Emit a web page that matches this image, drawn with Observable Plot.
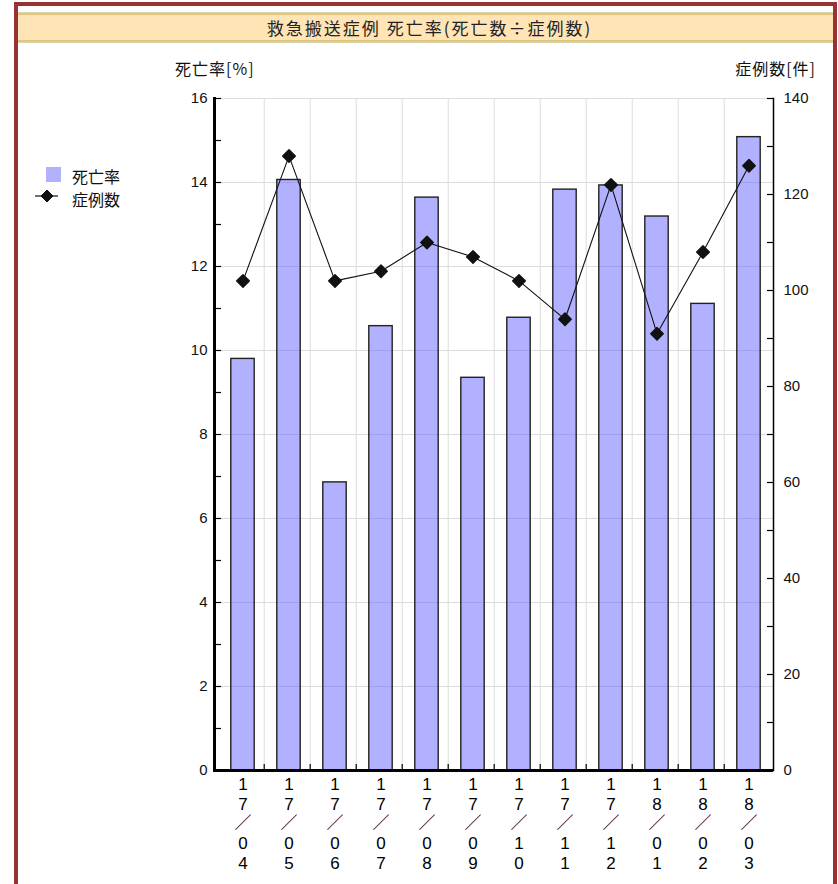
<!DOCTYPE html>
<html><head><meta charset="utf-8">
<script src="https://cdn.jsdelivr.net/npm/d3@7"></script>
<script src="https://cdn.jsdelivr.net/npm/@observablehq/plot@0.6"></script>
<style>
html,body{margin:0;padding:0;background:#fff;overflow:hidden;width:838px;height:884px}
#frame{position:absolute;left:14px;top:2px;width:823px;height:900px;border:4px solid #993333;border-bottom:none;box-sizing:border-box;z-index:5;pointer-events:none}
#titlebar{position:absolute;left:18px;top:12px;width:815px;height:31px;
 background:linear-gradient(to bottom,#d6d6b2 0 1px,#e5c57a 1px 3px,#ffe4b5 3px calc(100% - 3px),#e5c57a calc(100% - 3px) calc(100% - 1px),#d6d6b2 calc(100% - 1px));
 font:17px "Noto Sans CJK JP",sans-serif;letter-spacing:2px;color:#222;text-align:center;line-height:31px;padding-left:8px;box-sizing:border-box}
.lbl{position:absolute;font:16px "Noto Sans CJK JP",sans-serif;color:#111;white-space:nowrap;line-height:22px}
.ttl{letter-spacing:1px}
#chart{position:absolute;left:0;top:44px}
</style></head>
<body>
<div id="chart"></div>
<div id="frame"></div>
<div id="titlebar">救急搬送症例 死亡率(死亡数÷症例数)</div>
<div class="lbl ttl" style="left:175px;top:57px">死亡率[%]</div>
<div class="lbl ttl" style="right:22px;top:57px">症例数[件]</div>
<div style="position:absolute;left:46px;top:167px;width:15px;height:15px;background:#b1b1ff"></div>
<div class="lbl" style="left:72px;top:165px">死亡率</div>
<svg style="position:absolute;left:33px;top:188px" width="28" height="16"><line x1="2" y1="8" x2="25" y2="8" stroke="#111" stroke-width="1.2"/><path d="M14,2 L20,8 L14,14 L8,8 Z" fill="#111" stroke="#111" stroke-linejoin="round"/></svg>
<div class="lbl" style="left:72px;top:188px">症例数</div>
<script>
const months = ["17/04","17/05","17/06","17/07","17/08","17/09","17/10","17/11","17/12","18/01","18/02","18/03"];
const deathRate = [9.80,14.06,6.86,10.58,13.64,9.35,10.78,13.83,13.93,13.19,11.11,15.08];
const cases = [102,128,102,104,110,107,102,94,122,91,108,126];
const leftTicks = [0,2,4,6,8,10,12,14,16];
const leftMinor = [1,3,5,7,9,11,13,15];
const rightTicks = [0,20,40,60,80,100,120,140];
const rightMinor = [10,30,50,70,90,110,130];
const leftMax = 16, rightMax = 140;

const k = leftMax / rightMax;
const data = months.map((m, i) => ({month: m, rate: deathRate[i], count: cases[i]}));

const W = 838, H = 840, mL = 214, mR = 65, mT = 54, mB = 114;
const fw = W - mL - mR, fh = H - mT - mB;
const step = fw / months.length;
const grid = "#dcdcdc";

const chart = Plot.plot({
  width: W, height: H,
  marginLeft: mL, marginRight: mR, marginTop: mT, marginBottom: mB,
  style: {fontFamily: "'Liberation Sans', 'Noto Sans CJK JP', sans-serif", fontSize: "15px", color: "#111", background: "transparent"},
  x: {type: "band", domain: months, padding: 0},
  y: {domain: [0, leftMax]},
  marks: [
    Plot.ruleY(leftTicks.slice(1), {stroke: grid, strokeWidth: 1}),
    Plot.ruleX(months.slice(1), {x: d => d, dx: -step / 2, stroke: grid, strokeWidth: 1}),
    Plot.barY(data, {x: "month", y: "rate", fill: "#6464ff", fillOpacity: 0.5, stroke: "#222", strokeWidth: 1.4, insetLeft: 12.8, insetRight: 9.8}),
    Plot.line(data, {x: "month", y: d => d.count * k, stroke: "#111", strokeWidth: 1.1, dx: 1.5}),
    Plot.dot(data, {x: "month", y: d => d.count * k, symbol: "diamond2", r: 5.6, fill: "#111", stroke: "#111", strokeWidth: 1.5, strokeLinejoin: "round", dx: 1.5}),
    Plot.tickY(leftTicks.concat(leftMinor), {y: d => d, insetRight: fw - 7, stroke: "#000", strokeWidth: 1.2}),
    Plot.tickY(rightTicks.concat(rightMinor).map(v => v * k), {y: d => d, insetLeft: fw - 6, stroke: "#000", strokeWidth: 1.2}),
    Plot.ruleX(months.slice(1), {x: d => d, dx: -step / 2, insetTop: fh - 6, stroke: "#000", strokeWidth: 1.2}),
    Plot.ruleY([0], {stroke: "#000", strokeWidth: 3}),
    Plot.frame({anchor: "left", stroke: "#000", strokeWidth: 3}),
    Plot.frame({anchor: "right", stroke: "#000", strokeWidth: 1.5}),
    Plot.axisY({ticks: leftTicks, tickSize: 0, tickPadding: 7, label: null}),
    Plot.axisY({anchor: "right", ticks: rightTicks.map(v => v * k), tickFormat: d => String(Math.round(d / k)), tickSize: 0, tickPadding: 10, label: null}),
    Plot.axisX({tickSize: 0, tickPadding: 6, fontSize: 17, lineHeight: 1.15, dx: 1.5, label: null, fill: "#000",
      tickFormat: d => d.replace("/", "／").split("").join("\n")})
  ]
});
document.getElementById("chart").appendChild(chart);
</script>
</body></html>
